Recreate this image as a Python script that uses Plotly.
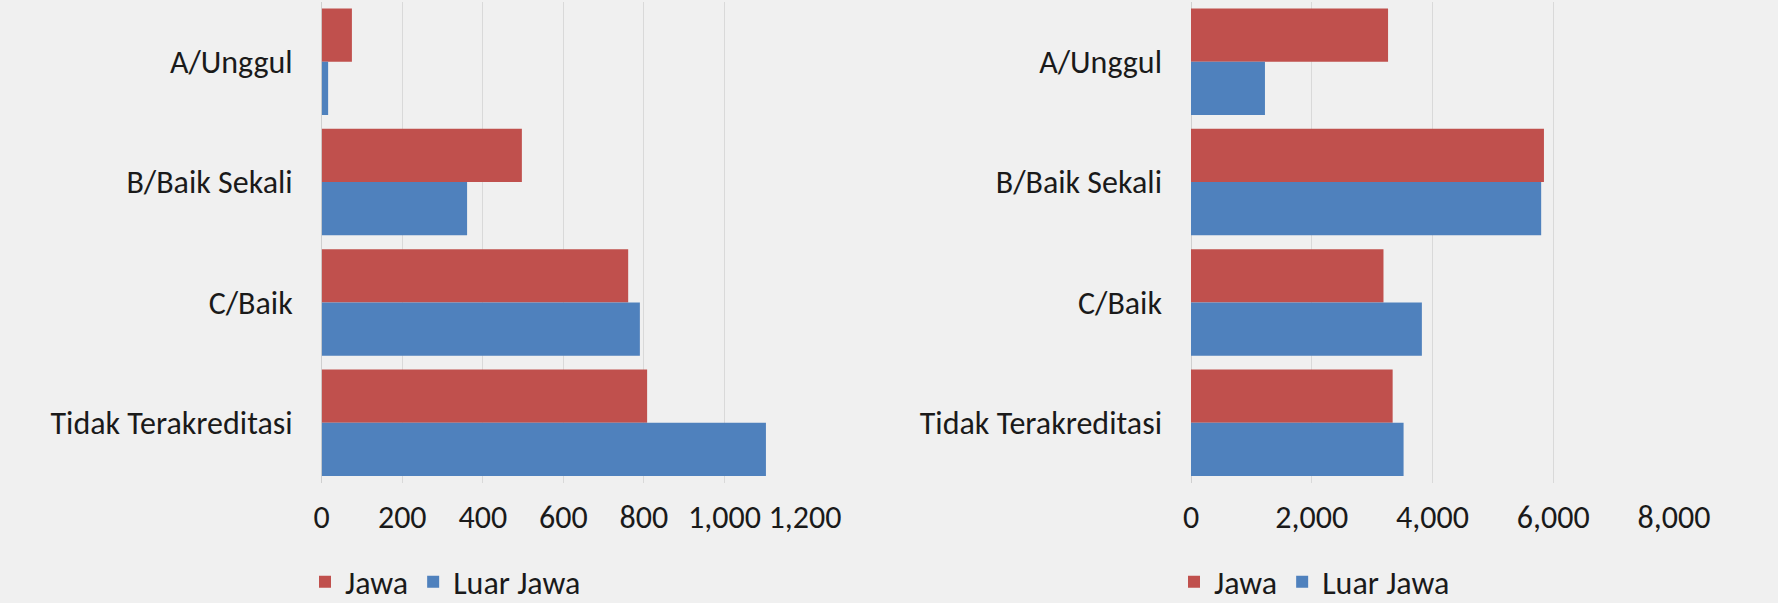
import plotly.graph_objects as go

# data
categories = ["A/Unggul", "B/Baik Sekali", "C/Baik", "Tidak Terakreditasi"]

left_jawa = [75, 497, 761, 808]
left_luar_jawa = [16, 361, 790, 1103]

right_jawa = [3264, 5846, 3188, 3340]
right_luar_jawa = [1225, 5800, 3824, 3521]

series_names = ["Jawa", "Luar Jawa"]

RED = "#C0504D"
BLUE = "#4F81BD"
BG = "#F0F0F0"
GRID = "#D9D9D9"
FONT = "Calibri, Carlito, Lato, sans-serif"
FSIZE = 32

W, H = 1778, 603

fig = go.Figure()

# left panel
fig.add_trace(go.Bar(
    y=categories, x=left_jawa, name=series_names[0], orientation="h",
    marker=dict(color=RED, line=dict(width=0)),
    xaxis="x", yaxis="y", legend="legend"
))
fig.add_trace(go.Bar(
    y=categories, x=left_luar_jawa, name=series_names[1], orientation="h",
    marker=dict(color=BLUE, line=dict(width=0)),
    xaxis="x", yaxis="y", legend="legend"
))

# right panel
fig.add_trace(go.Bar(
    y=categories, x=right_jawa, name=series_names[0], orientation="h",
    marker=dict(color=RED, line=dict(width=0)),
    xaxis="x2", yaxis="y2", legend="legend2"
))
fig.add_trace(go.Bar(
    y=categories, x=right_luar_jawa, name=series_names[1], orientation="h",
    marker=dict(color=BLUE, line=dict(width=0)),
    xaxis="x2", yaxis="y2", legend="legend2"
))

y_dom = [1 - 483 / H, 1 - 1.5 / H]

xaxis_common = dict(
    showgrid=True,
    gridcolor=GRID,
    gridwidth=1,
    zeroline=True,
    zerolinecolor="#CFCFCF",
    zerolinewidth=1,
    showline=False,
    ticks="",
    tickformat=",",
    tickfont=dict(family=FONT, size=FSIZE, color="#1A1A1A"),
    ticklabelstandoff=12,
    automargin=False,
    fixedrange=True,
)

yaxis_common = dict(
    domain=y_dom,
    autorange="reversed",
    showgrid=False,
    zeroline=False,
    showline=False,
    ticks="",
    tickfont=dict(family=FONT, size=FSIZE, color="#1A1A1A"),
    ticklabelstandoff=28,
    automargin=False,
)

legend_common = dict(
    orientation="h",
    yanchor="middle",
    y=1 - 582 / H,
    xanchor="left",
    bgcolor="rgba(0,0,0,0)",
    font=dict(family=FONT, size=FSIZE, color="#1A1A1A"),
    itemclick=False,
    itemdoubleclick=False,
)

fig.update_layout(
    width=W,
    height=H,
    paper_bgcolor=BG,
    plot_bgcolor=BG,
    margin=dict(l=0, r=0, t=0, b=0, autoexpand=False),
    barmode="group",
    bargap=0.115,
    bargroupgap=0,
    xaxis=dict(domain=[321.7 / W, 805 / W], range=[0, 1200], dtick=200, **xaxis_common),
    yaxis=dict(anchor="x", **yaxis_common),
    xaxis2=dict(domain=[1191 / W, 1674 / W], range=[0, 8000], dtick=2000, anchor="y2", **xaxis_common),
    yaxis2=dict(anchor="x2", **yaxis_common),
    legend=dict(x=305 / W, **legend_common),
    legend2=dict(x=1174 / W, **legend_common),
    showlegend=True,
)

fig.write_html(
    "out.html",
    config={"displayModeBar": False},
    post_script="document.body.style.margin='0';document.body.style.overflow='hidden';",
)
